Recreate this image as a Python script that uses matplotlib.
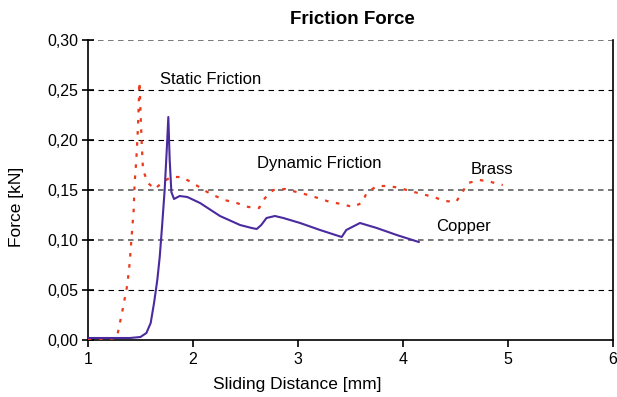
import matplotlib
matplotlib.use("Agg")
import matplotlib.pyplot as plt
from matplotlib.ticker import FixedLocator, FuncFormatter

plt.rcParams['font.family'] = ['Liberation Sans', 'DejaVu Sans']

# Copper (solid line)
cu_x = [1.00, 1.20, 1.40, 1.50, 1.556, 1.597, 1.629, 1.66, 1.683, 1.705, 1.73, 1.75,
        1.765, 1.778, 1.794, 1.819, 1.873, 1.946, 2.067, 2.257, 2.448, 2.559, 2.607,
        2.65, 2.70, 2.78, 2.86, 3.02, 3.21, 3.416, 3.46, 3.59, 3.75, 3.94, 4.15]
cu_y = [0.002, 0.002, 0.002, 0.003, 0.007, 0.017, 0.037, 0.060, 0.083, 0.113, 0.150, 0.190,
        0.223, 0.180, 0.148, 0.141, 0.144, 0.143, 0.137, 0.124, 0.115, 0.112, 0.111,
        0.115, 0.122, 0.124, 0.122, 0.117, 0.110, 0.103, 0.110, 0.117, 0.112, 0.105, 0.098]

# Brass (dotted line)
br_x = [1.00, 1.20, 1.27, 1.286, 1.333, 1.374, 1.397, 1.413, 1.435, 1.444, 1.46, 1.476,
        1.49, 1.51, 1.524, 1.571, 1.635, 1.714, 1.79, 1.889, 2.0, 2.1, 2.19, 2.30, 2.416,
        2.527, 2.63, 2.686, 2.765, 2.876, 2.987, 3.098, 3.19, 3.305, 3.416, 3.52, 3.607,
        3.654, 3.75, 3.86, 3.97, 4.067, 4.18, 4.29, 4.40, 4.505, 4.56, 4.62, 4.73, 4.838, 4.95]
br_y = [0.001, 0.001, 0.002, 0.008, 0.032, 0.055, 0.077, 0.100, 0.130, 0.157, 0.180, 0.213,
        0.258, 0.200, 0.170, 0.157, 0.151, 0.158, 0.163, 0.163, 0.157, 0.150, 0.145, 0.140, 0.137,
        0.133, 0.132, 0.142, 0.150, 0.151, 0.148, 0.145, 0.142, 0.138, 0.136, 0.133, 0.137,
        0.147, 0.154, 0.154, 0.152, 0.149, 0.146, 0.143, 0.139, 0.138, 0.147, 0.157, 0.160, 0.158, 0.155]

x_ticks = [1, 2, 3, 4, 5, 6]
y_ticks = [0.00, 0.05, 0.10, 0.15, 0.20, 0.25, 0.30]

annotations = [("Static Friction", 1.686, 0.260),
               ("Dynamic Friction", 2.61, 0.176),
               ("Brass", 4.64, 0.170),
               ("Copper", 4.314, 0.113)]

fig = plt.figure(figsize=(6.17, 3.97), dpi=100)
ax = fig.add_axes([88/617, 1-340/397, (613-88)/617, 300/397])

ax.set_xlim(1, 6)
ax.set_ylim(0, 0.30)

for yv in y_ticks[1:]:
    c = '#555555' if yv in (0.10, 0.15, 0.30) else 'black'
    lw = 1.1 if yv in (0.10, 0.15, 0.30) else 0.8
    ax.axhline(yv, color=c, lw=lw, ls=(0, (5*0.8/lw, 4*0.8/lw)), zorder=1)

ax.plot(br_x, br_y, color='#ec3a1c', lw=1.6, ls=(0, (1.6, 3.4)), zorder=3)
ax.plot(cu_x, cu_y, color='#4a2a9e', lw=1.5, zorder=4)

ax.spines['top'].set_visible(False)
for s in ['left', 'bottom', 'right']:
    ax.spines[s].set_linewidth(1.2)
    ax.spines[s].set_color('black')

ax.xaxis.set_major_locator(FixedLocator(x_ticks))
ax.yaxis.set_major_locator(FixedLocator(y_ticks))
ax.xaxis.set_major_formatter(FuncFormatter(lambda v, p: f"{v:.0f}"))
ax.yaxis.set_major_formatter(FuncFormatter(lambda v, p: f"{v:.2f}".replace('.', ',')))
ax.tick_params(axis='x', direction='out', length=5, width=1.2, labelsize=11.5, pad=4)
ax.tick_params(axis='y', direction='inout', length=8, width=1.2, labelsize=11.5, pad=3)

for txt, x, y in annotations:
    ax.text(x, y, txt, fontsize=12, ha='left', va='center')

fig.text(297/617, 1-385/397, "Sliding Distance [mm]", fontsize=12.5, ha='center', va='center')
fig.text(17/617, 1-207/397, "Force [kN]", fontsize=12.5, ha='center', va='center', rotation=90)
fig.text(352/617, 1-20/397, "Friction Force", fontsize=13.5, fontweight='bold', ha='center', va='center')

fig.savefig("out.png", dpi=100)
